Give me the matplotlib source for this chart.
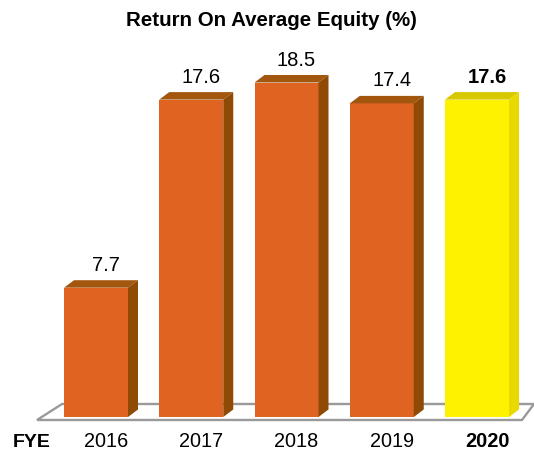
import matplotlib
matplotlib.use("Agg")
import matplotlib.pyplot as plt
from matplotlib.patches import Polygon
import numpy as np

years = ["2016", "2017", "2018", "2019", "2020"]
values = [7.7, 17.6, 18.5, 17.4, 17.6]
value_labels = ["7.7", "17.6", "18.5", "17.4", "17.6"]
highlight = [False, False, False, False, True]

W, H = 534, 452
fig = plt.figure(figsize=(W / 100, H / 100), dpi=100)
ax = fig.add_axes([0, 0, 1, 1])

# pixel mapping: x_px = 96 + 95.25*i ; y_px = 435 - 19*v
sx, x0 = 95.25, 96.0
sy, y0 = 19.0, 435.0
ax.set_xlim((0 - x0) / sx, (W - x0) / sx)
ax.set_ylim((y0 - H) / sy, y0 / sy)
ax.axis("off")

def px2x(p):
    return (p - x0) / sx

def px2y(p):
    return (y0 - p) / sy

base = px2y(418)
bw = 64 / sx
ddx = 10 / sx
ddy = 7.5 / sy

# floor
floor = Polygon([(px2x(37), px2y(421)), (px2x(522), px2y(421)),
                 (px2x(534), px2y(405)), (px2x(62), px2y(405))],
                closed=True, facecolor="white", edgecolor="#9a9a9a", lw=1.7, zorder=1)
ax.add_patch(floor)

xs = np.arange(len(years))
front_cols = ["#FFF200" if h else "#DF6321" for h in highlight]
top_cols = ["#D8C800" if h else "#A3570E" for h in highlight]
side_cols = ["#E9D900" if h else "#8F4A05" for h in highlight]

heights = [v - base for v in values]
ax.bar(xs, heights, bottom=base, width=bw, color=front_cols, zorder=3, linewidth=0)

for i, v in enumerate(values):
    l, r = xs[i] - bw / 2, xs[i] + bw / 2
    top = Polygon([(l, v), (r, v), (r + ddx, v + ddy), (l + ddx, v + ddy)],
                  closed=True, facecolor=top_cols[i], edgecolor="none", zorder=3)
    side = Polygon([(r, base), (r, v), (r + ddx, v + ddy), (r + ddx, base + ddy)],
                   closed=True, facecolor=side_cols[i], edgecolor="none", zorder=3)
    ax.add_patch(top)
    ax.add_patch(side)
    ax.text(xs[i] + 10 / sx, v + 18 / sy, value_labels[i], ha="center", va="baseline",
            fontsize=14.5, family="Liberation Sans",
            fontweight="bold" if highlight[i] else "normal", color="black", zorder=4)
    ax.text(xs[i] + 10 / sx, px2y(447), years[i], ha="center", va="baseline",
            fontsize=14.3, family="Liberation Sans",
            fontweight="bold" if highlight[i] else "normal", color="black")

ax.text(px2x(13), px2y(447), "FYE", ha="left", va="baseline", fontsize=14,
        family="Liberation Sans", fontweight="bold")

fig.text(271 / W, 1 - 20 / H, "Return On Average Equity (%)", ha="center", va="center",
         fontsize=14.8, family="Liberation Sans", fontweight="bold")

fig.savefig("out.png", dpi=100)
